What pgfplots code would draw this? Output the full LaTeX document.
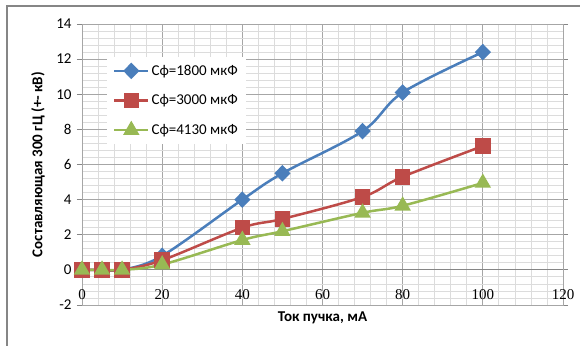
\documentclass[border=0pt]{standalone}
\usepackage{fontspec}
\setmainfont{Carlito}
\newfontfamily\seriffont{Liberation Serif}
\usepackage{pgfplots}
\pgfplotsset{compat=1.18}
\definecolor{cblue}{HTML}{4A7EBB}
\definecolor{cred}{HTML}{BE4B48}
\definecolor{cgreen}{HTML}{98B954}
\definecolor{majgrid}{HTML}{A6A6A6}
\definecolor{mingrid}{HTML}{DCDCDC}
\definecolor{axcol}{HTML}{868686}
\begin{document}
\begin{tikzpicture}
\useasboundingbox (0,0) rectangle (580bp,346bp);
\fill[white] (0,0) rectangle (580bp,346bp);
\draw[axcol, line width=1.2bp] (7bp,0) -- (7bp,340bp) -- (580bp,340bp);
\begin{axis}[
  at={(82bp,41bp)}, anchor=south west,
  scale only axis, width=481bp, height=281bp,
  xmin=0, xmax=120, ymin=-2, ymax=14,
  xtick={0,20,...,120},
  xticklabels={0,20,40,60,80,100,120},
  ytick={-2,0,...,14},
  yticklabels={-2,0,2,4,6,8,10,12,14},
  minor x tick num=4, minor y tick num=4,
  grid=both,
  major grid style={majgrid, line width=0.8bp},
  minor grid style={mingrid, line width=0.8bp},
  axis line style={majgrid, line width=0.8bp},
  xtick style={draw=none},
  minor tick style={draw=none},
  ytick style={axcol, line width=0.8bp},
  tick align=outside, major tick length=5bp,
  extra y ticks={0}, extra y tick labels={},
  extra y tick style={grid=major, major grid style={axcol, line width=1.2bp}, tick style={draw=none}},
  xticklabel style={font=\seriffont\fontsize{15bp}{18bp}\selectfont, anchor=center, yshift=15bp},
  yticklabel style={font=\fontsize{15bp}{18bp}\selectfont, xshift=-2bp},
  xlabel={\textbf{Ток пучка, мА}},
  ylabel={\textbf{Составляющая 300 гЦ (+- кВ)}},
  xlabel style={font=\fontsize{15bp}{18bp}\selectfont, at={(axis description cs:0.5,0)}, anchor=center, yshift=-13bp},
  ylabel style={font=\fontsize{15bp}{18bp}\selectfont, at={(axis description cs:-0.0915,0.5)}, anchor=center},
  legend style={at={(axis cs:6.2,12.13)}, anchor=north west, draw=none, fill=white,
    font=\fontsize{15bp}{18bp}\selectfont, row sep=14bp, inner sep=6bp},
  legend cell align=left,
  legend image code/.code={\draw[mark repeat=2,mark phase=2] plot coordinates {(0bp,0bp)(17bp,0bp)(34bp,0bp)};},
]
\addplot[cblue, line width=2.5bp, smooth, tension=0.55, mark=diamond*, mark size=6.5bp, mark options={solid, fill=cblue, xscale=1.3}]
  coordinates {(0,0)(5,0)(10,0)(20,0.8)(40,4.0)(50,5.5)(70,7.9)(80,10.1)(100,12.4)};
\addlegendentry{Сф=1800 мкФ}
\addplot[cred, line width=2.5bp, smooth, tension=0.55, mark=square*, mark size=6.5bp, mark options={solid, fill=cred}]
  coordinates {(0,0)(5,0)(10,0)(20,0.55)(40,2.4)(50,2.9)(70,4.15)(80,5.3)(100,7.05)};
\addlegendentry{Сф=3000 мкФ}
\addplot[cgreen, line width=2.5bp, smooth, tension=0.55, mark=triangle*, mark size=7bp, mark options={solid, fill=cgreen}]
  coordinates {(0,0)(5,0)(10,0)(20,0.3)(40,1.7)(50,2.2)(70,3.25)(80,3.65)(100,4.95)};
\addlegendentry{Сф=4130 мкФ}
\end{axis}
\end{tikzpicture}
\end{document}
